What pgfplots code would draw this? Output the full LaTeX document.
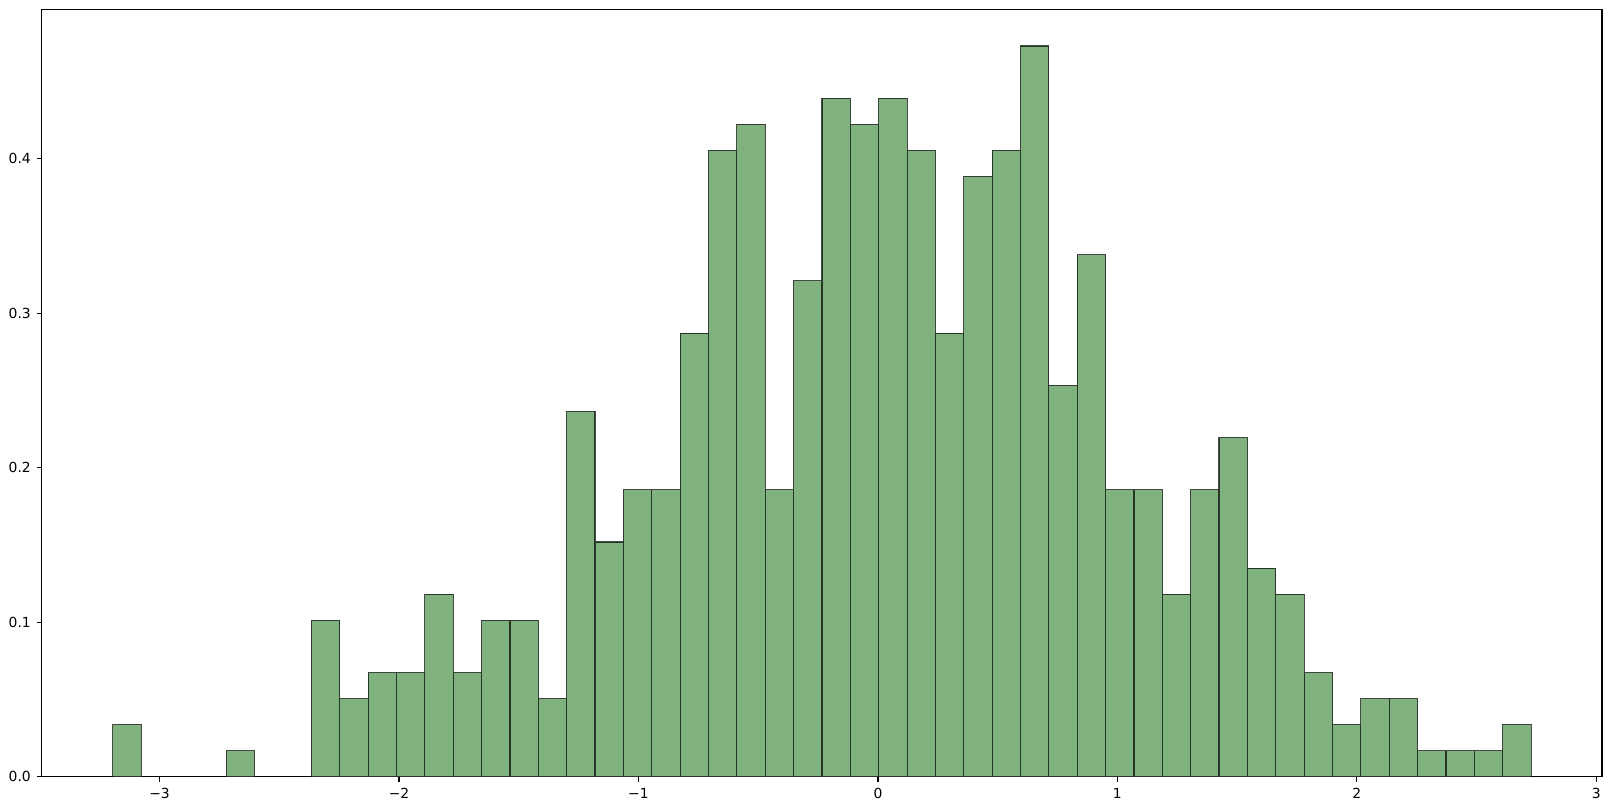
\documentclass[border=0pt]{standalone}
\usepackage{fontspec}
\setmainfont{DejaVu Sans}
\usepackage{pgfplots}
\pgfplotsset{compat=1.18}
\definecolor{barfill}{RGB}{128,178,128}
\begin{document}
\begin{tikzpicture}
\begin{axis}[
  scale only axis,
  width=1123.2pt, height=552.6pt,
  xmin=-3.4912, xmax=3.0237,
  ymin=0, ymax=0.4964,
  axis line style={line width=0.8pt},
  tick style={black, line width=0.8pt},
  tick align=outside,
  major tick length=3.5pt,
  xtick={-3,-2,-1,0,1,2,3},
  xticklabels={−3,−2,−1,0,1,2,3},
  ytick={0,0.1,0.2,0.3,0.4},
  yticklabels={0.0,0.1,0.2,0.3,0.4},
  xtick pos=bottom, ytick pos=left,
  ticklabel style={font=\fontsize{10pt}{12pt}\selectfont},
  /pgf/number format/assume math mode=true,
  xticklabel style={yshift=-1pt},
  yticklabel style={xshift=-1pt},
]
\addplot[ybar interval, fill=barfill, draw=black, draw opacity=0.7, line width=0.8pt] coordinates {
(-3.1950,0.03377)
(-3.0766,0)
(-2.9581,0)
(-2.8397,0)
(-2.7212,0.01689)
(-2.6028,0)
(-2.4843,0)
(-2.3659,0.10131)
(-2.2474,0.05066)
(-2.1290,0.06754)
(-2.0105,0.06754)
(-1.8921,0.11820)
(-1.7736,0.06754)
(-1.6552,0.10131)
(-1.5367,0.10131)
(-1.4183,0.05066)
(-1.2998,0.23639)
(-1.1814,0.15197)
(-1.0629,0.18574)
(-0.9445,0.18574)
(-0.8260,0.28705)
(-0.7076,0.40524)
(-0.5891,0.42213)
(-0.4707,0.18574)
(-0.3522,0.32082)
(-0.2338,0.43901)
(-0.1153,0.42213)
(0.0031,0.43901)
(0.1216,0.40524)
(0.2400,0.28705)
(0.3585,0.38836)
(0.4769,0.40524)
(0.5954,0.47278)
(0.7138,0.25328)
(0.8323,0.33770)
(0.9507,0.18574)
(1.0692,0.18574)
(1.1876,0.11820)
(1.3061,0.18574)
(1.4245,0.21951)
(1.5430,0.13508)
(1.6614,0.11820)
(1.7799,0.06754)
(1.8983,0.03377)
(2.0168,0.05066)
(2.1352,0.05066)
(2.2537,0.01689)
(2.3721,0.01689)
(2.4906,0.01689)
(2.6090,0.03377)
(2.7275,0.03377)
};
\end{axis}
\useasboundingbox ([shift={(-30.2pt,-24.5pt)}]current axis.south west) rectangle ([shift={(6.5pt,6.8pt)}]current axis.north east);
\end{tikzpicture}
\end{document}
